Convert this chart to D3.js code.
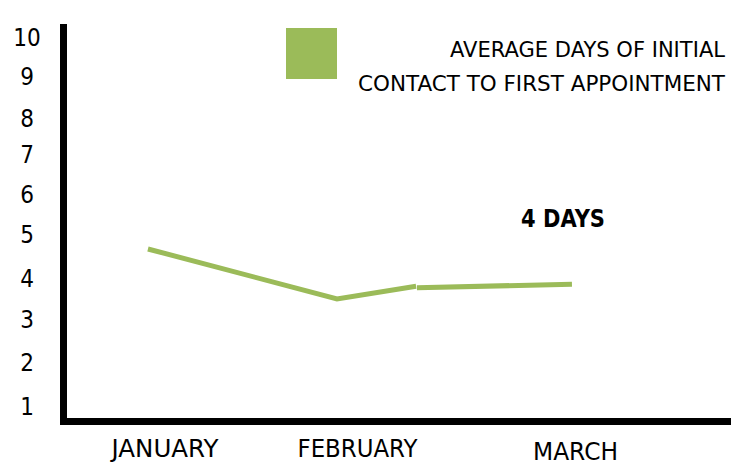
<!DOCTYPE html>
<html>
<head>
<meta charset="utf-8">
<script src="https://cdn.jsdelivr.net/npm/d3@7"></script>
<style>
  html, body { margin: 0; padding: 0; background: #fff; }
  svg { display: block; }
  text { font-family: "DejaVu Sans Condensed", "DejaVu Sans", sans-serif; fill: #000; }
</style>
</head>
<body>
<svg id="chart" width="731" height="462"></svg>
<script>
// ---- data ----
const months = ["JANUARY", "FEBRUARY", "MARCH"];
const yTicks = [1, 2, 3, 4, 5, 6, 7, 8, 9, 10];
// hand-drawn line, two strokes (x in month units, y in days)
const segment1X = [-0.086, 0.896, 1.271];
const segment1Y = [4.66, 3.49, 3.80];
const segment2X = [1.275, 1.986];
const segment2Y = [3.76, 3.85];
const legendLines = ["AVERAGE DAYS OF INITIAL", "CONTACT TO FIRST APPOINTMENT"];
const annotation = "4 DAYS";

// ---- layout ----
const W = 731, H = 462;
const green = "#9BBB59";
const svg = d3.select("#chart");

// the reference's tick labels are not evenly spaced: polylinear scales
const y = d3.scaleLinear()
  .domain(yTicks)
  .range([406, 362, 319, 278, 234, 194, 154, 118, 76, 37]);
const x = d3.scaleLinear()
  .domain([0, 1, 2])
  .range([164.5, 357, 575]);

// axes frame
const axisX0 = 63.5, axisY0 = 421.5;
svg.append("line")
  .attr("x1", axisX0).attr("x2", axisX0)
  .attr("y1", 24).attr("y2", axisY0 + 3.5)
  .attr("stroke", "#000").attr("stroke-width", 7);
svg.append("line")
  .attr("x1", axisX0 - 3.5).attr("x2", W)
  .attr("y1", axisY0).attr("y2", axisY0)
  .attr("stroke", "#000").attr("stroke-width", 7);

// y tick labels via axis
const yAxis = d3.axisLeft(y).tickValues(yTicks).tickSize(0).tickFormat(d3.format("d"));
const gy = svg.append("g").call(yAxis);
gy.select(".domain").remove();
gy.selectAll("text")
  .attr("x", 27)
  .attr("dy", "0.36em")
  .attr("text-anchor", "middle")
  .style("font-size", "24px")
  .style("font-family", '"DejaVu Sans Condensed", "DejaVu Sans", sans-serif')
  .attr("fill", "#000");

// x tick labels via axis
const xAxis = d3.axisBottom(x).tickValues([0, 1, 2]).tickSize(0).tickFormat(i => months[i]);
const gx = svg.append("g").call(xAxis);
gx.select(".domain").remove();
const xWidths = [107, 120, 85];
const xBase = [457, 457, 460];
gx.selectAll("text")
  .attr("y", (d, i) => xBase[i])
  .attr("dy", null)
  .attr("text-anchor", "middle")
  .attr("textLength", (d, i) => xWidths[i])
  .attr("lengthAdjust", "spacingAndGlyphs")
  .style("font-size", "24px")
  .style("font-family", '"DejaVu Sans", sans-serif')
  .attr("fill", "#000");

// line strokes
const line = d3.line().x(d => x(d[0])).y(d => y(d[1]));
[[segment1X, segment1Y], [segment2X, segment2Y]].forEach(([xs, ys]) => {
  svg.append("path")
    .datum(xs.map((v, i) => [v, ys[i]]))
    .attr("d", line)
    .attr("fill", "none")
    .attr("stroke", green)
    .attr("stroke-width", 5)
    .attr("stroke-linejoin", "miter");
});

// legend
svg.append("rect")
  .attr("x", 286).attr("y", 28).attr("width", 51).attr("height", 51)
  .attr("fill", green);
const legW = [275, 367], legBase = [57, 91];
svg.selectAll("text.leg").data(legendLines).enter().append("text")
  .attr("class", "leg")
  .attr("x", 725).attr("y", (d, i) => legBase[i])
  .attr("text-anchor", "end")
  .attr("textLength", (d, i) => legW[i])
  .attr("lengthAdjust", "spacingAndGlyphs")
  .style("font-size", "22px")
  .style("font-family", '"DejaVu Sans", sans-serif')
  .text(d => d);

// annotation
svg.append("text")
  .attr("x", 563).attr("y", 227)
  .attr("text-anchor", "middle")
  .attr("textLength", 84)
  .attr("lengthAdjust", "spacingAndGlyphs")
  .style("font-size", "25px")
  .style("font-weight", "bold")
  .style("font-family", '"DejaVu Sans", sans-serif')
  .text(annotation);
</script>
</body>
</html>
